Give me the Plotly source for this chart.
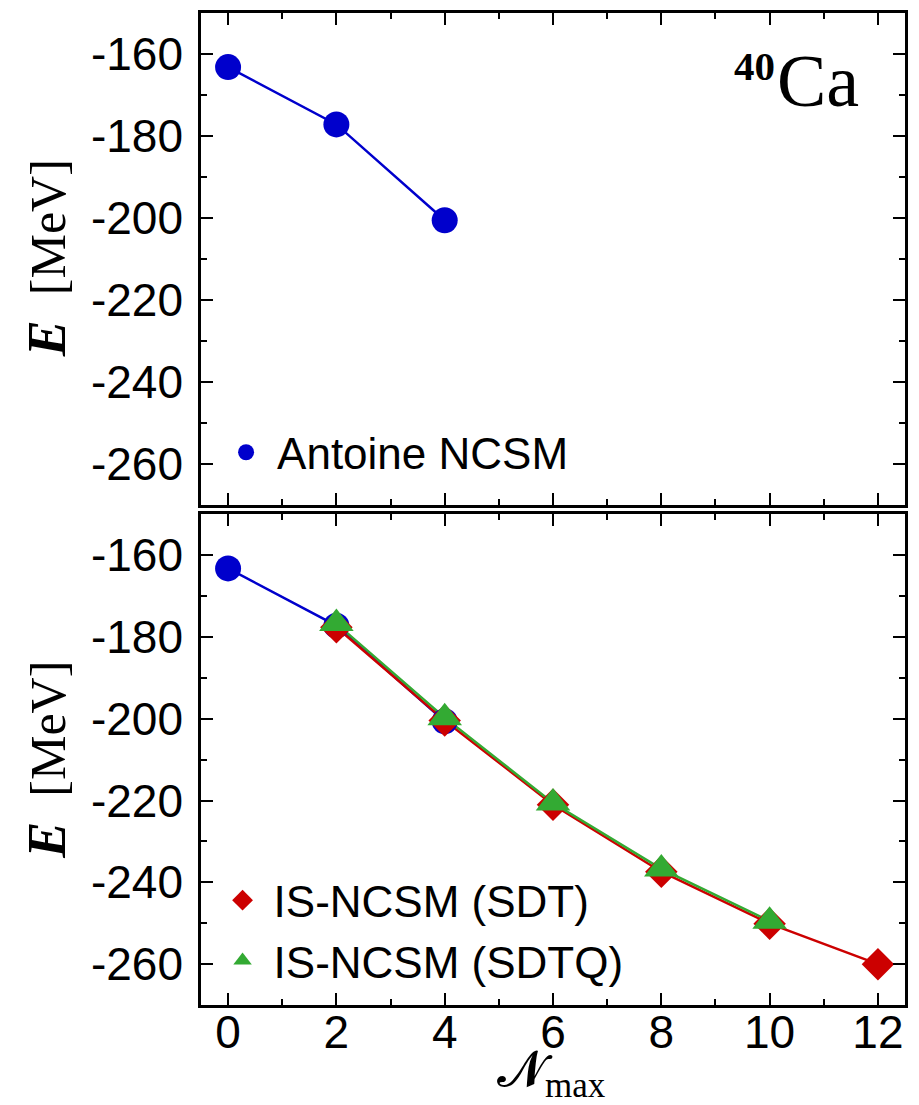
import plotly.graph_objects as go
from plotly.subplots import make_subplots

# ---- data ----
n_antoine = [0, 2, 4]
e_antoine = [-163.2, -177.2, -200.6]

n_sdt = [2, 4, 6, 8, 10, 12]
e_sdt = [-177.6, -200.4, -221.0, -237.4, -250.1, -260.0]

n_sdtq = [2, 4, 6, 8, 10]
e_sdtq = [-176.7, -199.7, -220.6, -236.7, -249.5]

y_tickvals = [-160, -180, -200, -220, -240, -260]
y_ticktext = ["-160", "-180", "-200", "-220", "-240", "-260"]
x_tickvals = [0, 2, 4, 6, 8, 10, 12]
x_ticktext = ["0", "2", "4", "6", "8", "10", "12"]

BLUE = "#0000CC"
RED = "#CC0000"
GREEN = "#33AA33"

fig = make_subplots(rows=2, cols=1, shared_xaxes=False, vertical_spacing=0.0)

# top panel
fig.add_trace(go.Scatter(x=n_antoine, y=e_antoine, mode="lines", line=dict(color=BLUE, width=2.5),
                         showlegend=False, hoverinfo="skip"), row=1, col=1)
fig.add_trace(go.Scatter(x=n_antoine, y=e_antoine, mode="markers", name="Antoine NCSM",
                         marker=dict(color=BLUE, size=26, symbol="circle"), legend="legend"), row=1, col=1)

# bottom panel
fig.add_trace(go.Scatter(x=n_antoine, y=e_antoine, mode="lines", line=dict(color=BLUE, width=2.5),
                         showlegend=False, hoverinfo="skip"), row=2, col=1)
fig.add_trace(go.Scatter(x=n_sdt, y=e_sdt, mode="lines", line=dict(color=RED, width=2.5),
                         showlegend=False, hoverinfo="skip"), row=2, col=1)
fig.add_trace(go.Scatter(x=n_sdtq, y=e_sdtq, mode="lines", line=dict(color=GREEN, width=2.5),
                         showlegend=False, hoverinfo="skip"), row=2, col=1)
fig.add_trace(go.Scatter(x=n_antoine, y=e_antoine, mode="markers", showlegend=False,
                         marker=dict(color=BLUE, size=26, symbol="circle")), row=2, col=1)
fig.add_trace(go.Scatter(x=n_sdt, y=e_sdt, mode="markers", name="IS-NCSM (SDT)",
                         marker=dict(color=RED, size=25, symbol="diamond"), legend="legend2"), row=2, col=1)
fig.add_trace(go.Scatter(x=n_sdtq, y=e_sdtq, mode="markers", name="IS-NCSM (SDTQ)",
                         marker=dict(color=GREEN, size=30, symbol="triangle-up"), legend="legend2"), row=2, col=1)

tickfont = dict(family="Liberation Sans, Arial, sans-serif", size=46, color="black")
common_x = dict(range=[-0.5, 12.5], tickmode="array", tickvals=x_tickvals, ticktext=x_ticktext,
                ticks="inside", ticklen=12, tickwidth=2, tickcolor="black",
                minor=dict(dtick=1, ticks="inside", ticklen=6, tickwidth=2, tickcolor="black"),
                showline=True, linewidth=2.5, linecolor="black", mirror="ticks",
                showgrid=False, zeroline=False, tickfont=tickfont)
common_y = dict(range=[-270, -150], tickmode="array", tickvals=y_tickvals, ticktext=y_ticktext,
                ticks="inside", ticklen=12, tickwidth=2, tickcolor="black",
                minor=dict(tickmode="array", tickvals=[-270, -250, -230, -210, -190, -170, -150],
                           ticks="inside", ticklen=6, tickwidth=2, tickcolor="black"),
                showline=True, linewidth=2.5, linecolor="black", mirror="ticks",
                showgrid=False, zeroline=False, tickfont=tickfont, ticklabelstandoff=6)

fig.update_xaxes(**common_x)
fig.update_yaxes(**common_y)
fig.update_xaxes(showticklabels=False, row=1, col=1)
fig.update_layout(
    xaxis=dict(domain=[0, 1]), xaxis2=dict(domain=[0, 1], ticklabelstandoff=-15),
    yaxis=dict(domain=[0.5045, 1.0]), yaxis2=dict(domain=[0.0, 0.4945]),
)

W, H = 919, 1105
ML, MR, MT, MB = 201, 14, 10, 100
fig.update_layout(
    width=W, height=H,
    margin=dict(l=ML, r=MR, t=MT, b=MB, pad=0),
    paper_bgcolor="white", plot_bgcolor="white",
    legend=dict(x=0.02, y=0.5568, xanchor="left", yanchor="middle", bgcolor="rgba(0,0,0,0)",
                font=dict(family="Liberation Sans, Arial, sans-serif", size=44, color="black"),
                itemwidth=52),
    legend2=dict(x=0.015, y=0.075, xanchor="left", yanchor="middle", bgcolor="rgba(0,0,0,0)",
                 font=dict(family="Liberation Sans, Arial, sans-serif", size=44, color="black"),
                 itemwidth=52, tracegroupgap=0),
)

def px_to_paper_x(px):
    return (px - ML) / (W - ML - MR)

def px_to_paper_y(py):
    return (H - MB - py) / (H - MT - MB)

serif = "Liberation Serif, Times New Roman, serif"
ytitle = "<span style='font-size:54px'><b><i>E</i></b></span>  [MeV]"
for yc in (256, 759):
    fig.add_annotation(xref="paper", yref="paper", xanchor="center", yanchor="middle",
                       x=px_to_paper_x(47), y=px_to_paper_y(yc), textangle=-90, text=ytitle,
                       showarrow=False, font=dict(family=serif, size=50, color="black"))

# x-axis title
fig.add_annotation(xref="paper", yref="paper", x=px_to_paper_x(551), y=px_to_paper_y(1073),
                   xanchor="center", yanchor="middle", showarrow=False,
                   text="𝓝<sub>max</sub>", font=dict(family=serif, size=50, color="black"))

# nucleus label
fig.add_annotation(xref="paper", yref="paper", x=px_to_paper_x(861), y=px_to_paper_y(78),
                   xanchor="right", yanchor="middle", showarrow=False,
                   text="Ca", font=dict(family=serif, size=74, color="black"))
fig.add_annotation(xref="paper", yref="paper", x=px_to_paper_x(777), y=px_to_paper_y(63),
                   xanchor="right", yanchor="middle", showarrow=False,
                   text="<b>40</b>", font=dict(family=serif, size=41, color="black"))

fig.write_html("out.html")
